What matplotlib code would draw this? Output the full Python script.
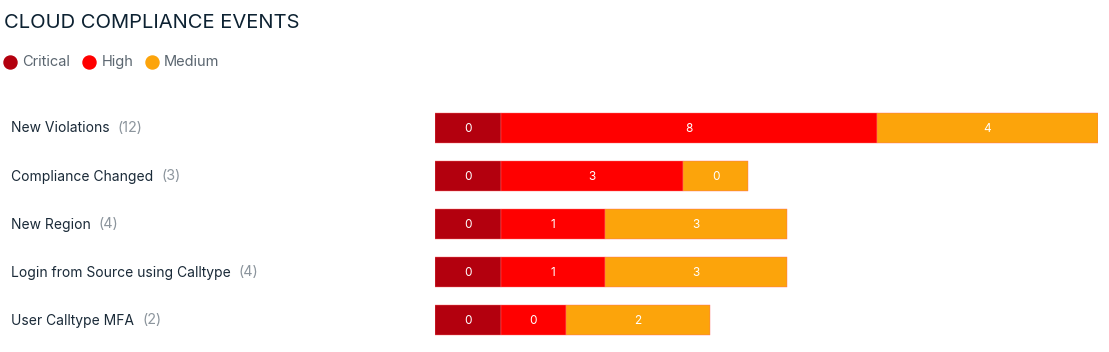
import matplotlib
matplotlib.use("Agg")
import matplotlib.pyplot as plt

# data
events = ["New Violations", "Compliance Changed", "New Region",
          "Login from Source using Calltype", "User Calltype MFA"]
critical = [0, 0, 0, 0, 0]
high = [8, 3, 1, 1, 0]
medium = [4, 0, 3, 3, 2]
severities = ["Critical", "High", "Medium"]
colors = ["#b3000e", "#ff0000", "#fca40b"]

# zero values still get a minimum segment width in the original widget
base = 1.69

plt.rcParams['font.family'] = ['Inter', 'DejaVu Sans']

W, H = 1109, 352
fig = plt.figure(figsize=(W / 100, H / 100), dpi=100)

# overlay in pixel coordinates for the text parts
ov = fig.add_axes([0, 0, 1, 1])
ov.set_xlim(0, W)
ov.set_ylim(H, 0)
ov.axis("off")

# bar axes
top, bottom = 104, 344
ax = fig.add_axes([435 / W, (H - bottom) / H, 663 / W, (bottom - top) / H])
ax.set_xlim(0, 3 * base + 12)
ax.set_ylim(len(events) - 0.5, -0.5)
ax.axis("off")

ypos = list(range(len(events)))
left = [0] * len(events)
for series, col in zip([critical, high, medium], colors):
    widths = [v + base for v in series]
    ax.barh(ypos, widths, left=left, height=30 / 48, color=col,
            edgecolor="#ff6a6a", linewidth=0.3)
    for y, l, w, v in zip(ypos, left, widths, series):
        ax.text(l + w / 2, y + 0.02, str(v), color="white", ha="center",
                va="center", fontsize=8.5)
    left = [l + w for l, w in zip(left, widths)]

# title
ov.text(4, 23, "CLOUD COMPLIANCE EVENTS", fontsize=14.5, color="#0d2232",
        va="center", ha="left")

# legend
leg_x = [9.7, 89, 152]
leg_tx = [22, 102, 164]
for cx, tx, name, col in zip(leg_x, leg_tx, severities, colors):
    ov.scatter([cx], [62], s=88, color=col, zorder=3)
    ov.text(tx, 62, name, fontsize=10.5, color="#5b6670", va="center",
            ha="left")

# row labels with counts
renderer = fig.canvas.get_renderer()
for i, name in enumerate(events):
    y = 128.5 + 48 * i
    t = ov.text(11, y, name, fontsize=10, color="#1a2a38", va="center",
                ha="left")
    bb = t.get_window_extent(renderer=renderer)
    total = critical[i] + high[i] + medium[i]
    ov.text(bb.x1 + 8, y, "(%d)" % total, fontsize=10.3, color="#8c959d",
            va="center", ha="left")

fig.savefig("out.png", dpi=100)
